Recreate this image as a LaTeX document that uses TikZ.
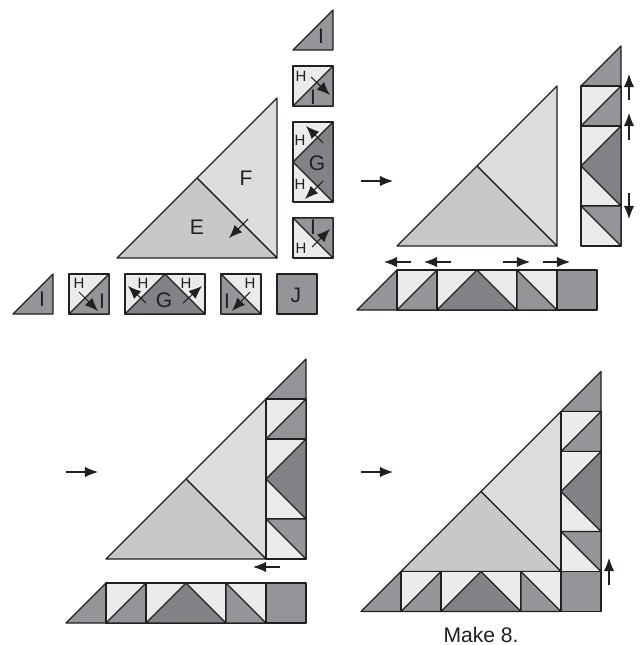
\documentclass[tikz,border=0pt]{standalone}
\usepackage{fontspec}
\setmainfont{Liberation Sans}
\usetikzlibrary{arrows.meta}
\definecolor{inkline}{RGB}{35,31,32}
\definecolor{paleF}{RGB}{220,221,222}
\definecolor{paleE}{RGB}{199,200,202}
\definecolor{lightH}{RGB}{235,235,235}
\definecolor{midI}{RGB}{147,149,152}
\definecolor{darkG}{RGB}{128,130,133}
\tikzset{
  patch/.style={draw=inkline,line width=0.7pt,line join=round},
  move/.style={-{Latex[length=7.5pt,width=6pt]},draw=inkline,line width=0.6pt},
  biglbl/.style={font=\fontsize{12}{14}\selectfont,text=inkline,inner sep=0pt},
  smalllbl/.style={font=\fontsize{8.5}{10}\selectfont,text=inkline,inner sep=0pt}
}
% one patch each, origin at its top left corner
\newcommand{\triI}[2]{\fill[midI,patch] (#1,#2+40) -- ++(40,0) -- ++(0,-40) -- cycle;}
\newcommand{\squareHI}[2]{
  \fill[lightH,patch] (#1,#2) rectangle ++(40,40);
  \fill[midI,patch] (#1,#2+40) -- ++(40,0) -- ++(0,-40) -- cycle;}
\newcommand{\squareIHup}[2]{
  \fill[lightH,patch] (#1,#2) rectangle ++(40,40);
  \fill[midI,patch] (#1,#2) -- ++(40,0) -- ++(0,40) -- cycle;}
\newcommand{\squareIHlow}[2]{
  \fill[lightH,patch] (#1,#2) rectangle ++(40,40);
  \fill[midI,patch] (#1,#2) -- ++(40,40) -- ++(-40,0) -- cycle;}
\newcommand{\sideG}[2]{
  \fill[lightH,patch] (#1,#2) rectangle ++(40,80);
  \fill[darkG,patch] (#1,#2+40) -- ++(40,-40) -- ++(0,80) -- cycle;}
\newcommand{\lowG}[2]{
  \fill[lightH,patch] (#1,#2) rectangle ++(80,40);
  \fill[darkG,patch] (#1,#2+40) -- ++(40,-40) -- ++(40,40) -- cycle;}
\newcommand{\squareJ}[2]{\fill[midI,patch] (#1,#2) rectangle ++(40,40);}
\newcommand{\bigEF}[2]{
  \fill[paleF,patch] (#1+80,#2+80) -- ++(80,80) -- ++(0,-160) -- cycle;
  \fill[paleE,patch] (#1,#2+160) -- ++(160,0) -- ++(-80,-80) -- cycle;}
% finished strips
\newcommand{\sidestrip}[2]{
  \triI{#1}{#2}
  \squareHI{#1}{#2+40}
  \sideG{#1}{#2+80}
  \squareIHup{#1}{#2+160}}
\newcommand{\lowstrip}[2]{
  \triI{#1}{#2}
  \squareHI{#1+40}{#2}
  \lowG{#1+80}{#2}
  \squareIHlow{#1+160}{#2}
  \squareJ{#1+200}{#2}}

\begin{document}
\begin{tikzpicture}[x=0.02cm,y=-0.02cm,>=Latex]
  \useasboundingbox (0,0) rectangle (641,645);

  % top left: loose pieces
  \bigEF{117}{98}
  \triI{293}{10}
  \squareHI{293}{66}
  \sideG{293}{122}
  \squareIHup{293}{218}
  \triI{13}{274}
  \squareHI{69}{274}
  \lowG{125}{274}
  \squareIHlow{221}{274}
  \squareJ{277}{274}
  \node[biglbl] (lblF) at (246,178) {F};
  \node[biglbl] (lblE) at (197,227) {E};
  \node[biglbl] (lblIa) at (321,36) {I};
  \node[smalllbl] (lblHa) at (301,76) {H};
  \node[biglbl] (lblIb) at (313,97) {I};
  \node[smalllbl] (lblHb) at (300,140) {H};
  \node[biglbl] (lblGa) at (317,163) {G};
  \node[smalllbl] (lblHc) at (300,184) {H};
  \node[biglbl] (lblIc) at (313,227) {I};
  \node[smalllbl] (lblHd) at (301,248) {H};
  \node[biglbl] (lblId) at (42,299) {I};
  \node[smalllbl] (lblHe) at (79,283) {H};
  \node[biglbl] (lblIe) at (102,301) {I};
  \node[smalllbl] (lblHf) at (143,283) {H};
  \node[biglbl] (lblGb) at (164,300) {G};
  \node[smalllbl] (lblHg) at (186,283) {H};
  \node[smalllbl] (lblHh) at (250,283) {H};
  \node[biglbl] (lblIf) at (227,301) {I};
  \node[biglbl] (lblJ) at (296,295) {J};
  \draw[move] (248,219) -- (229,238);
  \draw[move] (311,77) -- (330,95);
  \draw[move] (323,143) -- (306,126);
  \draw[move] (323,181) -- (305,199);
  \draw[move] (312,247) -- (330,229);
  \draw[move] (79,292) -- (98,311);
  \draw[move] (146,303) -- (128,286);
  \draw[move] (183,303) -- (202,286);
  \draw[move] (250,292) -- (232,311);

  % top right
  \bigEF{397}{86}
  \sidestrip{581}{46}
  \lowstrip{357}{270}
  \draw[move] (361,181) -- (393,181);
  \draw[move] (629,100) -- (629,74);
  \draw[move] (629,140) -- (629,113);
  \draw[move] (629,193) -- (629,219);
  \foreach \xa/\xb in {411/384,451/424,503/530,543/570}
    \draw[move] (\xa,262) -- (\xb,262);

  % bottom left
  \bigEF{106}{399}
  \sidestrip{266}{359}
  \lowstrip{66}{583}
  \draw[move] (66,472) -- (98,472);
  \draw[move] (280,567) -- (253,567);

  % bottom right
  \bigEF{401}{411.5}
  \sidestrip{561}{371.5}
  \lowstrip{361}{571.5}
  \draw[move] (361,472) -- (393,472);
  \draw[move] (609,585) -- (609,558);
  \node[biglbl] (lblMake) at (481,635) {Make 8.};
\end{tikzpicture}
\end{document}
